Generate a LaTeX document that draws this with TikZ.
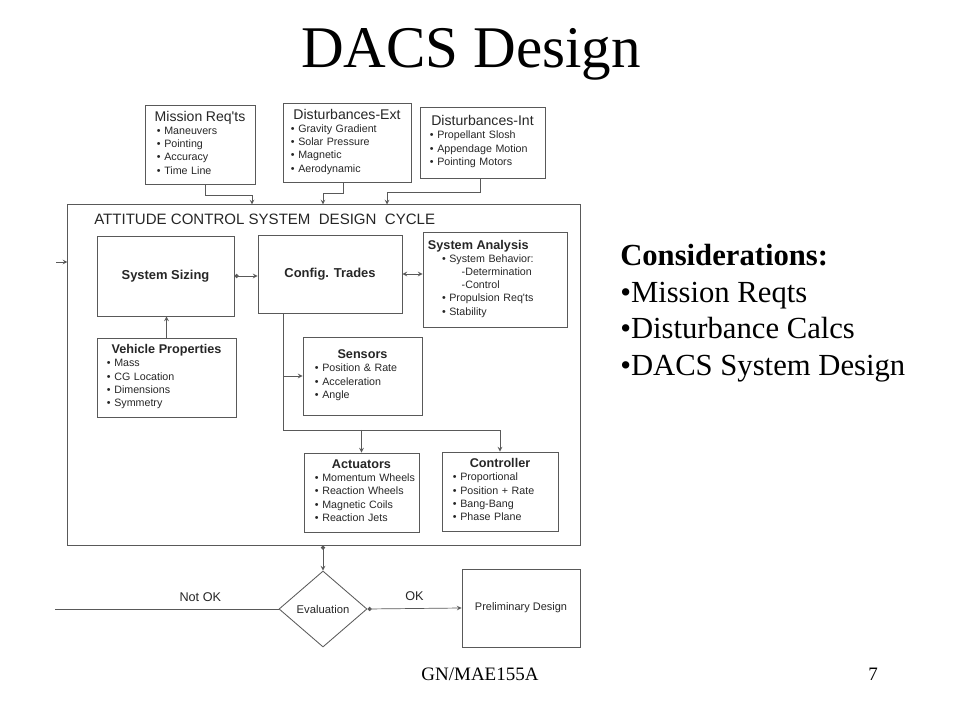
\documentclass[tikz,border=0pt]{standalone}
\usepackage{fontspec}
\setmainfont{Liberation Serif}
\newfontfamily\diagfont{Liberation Sans}
\usepackage{xcolor}
\usepackage{tikz}
\usetikzlibrary{shapes.geometric, arrows, arrows.meta, positioning}

\newcommand{\boxtitle}[1]{\centerline{\fontsize{10}{12}\selectfont #1}}
\newcommand{\boxhead}[1]{\centerline{\bfseries\fontsize{9}{11}\selectfont #1}}
\newcommand{\boxlist}[1]{\begin{tabular}[t]{@{}l@{}}#1\end{tabular}}

\begin{document}
\begin{tikzpicture}[
    x=0.025cm, y=-0.025cm,
    listbox/.style={rectangle, draw=black!65, line width=0.6pt, inner xsep=0.275cm, inner ysep=0pt, align=left, text=black!85, font=\diagfont\fontsize{7.6}{9.4}\selectfont},
    plainbox/.style={rectangle, draw=black!65, line width=0.6pt, align=center, text=black!85, font=\diagfont\bfseries\fontsize{9.2}{11}\selectfont},
    arrow/.style={->, >=stealth, line width=0.5pt, color=black!65},
    dotarrow/.style={{Circle[length=3pt]}->, >=stealth, line width=0.5pt, color=black!65},
    wire/.style={line width=0.5pt, color=black!65},
    tag/.style={text=black!85, font=\diagfont\fontsize{9}{11}\selectfont}
]
    \useasboundingbox (0,0) rectangle (960,720);

    % Slide title
    \node (title) [anchor=base, font=\fontsize{42}{50}\selectfont] at (471,68) {DACS Design};

    % Requirements and disturbances
    \node (mission) [listbox, inner xsep=0.3cm, text width=2.15cm, minimum height=1.975cm] at (200,144.5) {
        \boxtitle{Mission Req'ts}
        \boxlist{• Maneuvers\\ • Pointing\\ • Accuracy\\ • Time Line}
    };
    \node (distext) [listbox, inner xsep=0.2cm, text width=2.8cm, minimum height=1.975cm] at (347,142.5) {
        \boxtitle{Disturbances-Ext}
        \boxlist{• Gravity Gradient\\ • Solar Pressure\\ • Magnetic\\ • Aerodynamic}
    };
    \node (distint) [listbox, inner xsep=0.25cm, text width=2.625cm, minimum height=1.775cm] at (482.5,142.5) {
        \boxtitle{Disturbances-Int}
        \boxlist{• Propellant Slosh\\ • Appendage Motion\\ • Pointing Motors}
    };

    % Attitude control system design cycle
    \node (acs) [rectangle, draw=black!65, line width=0.7pt, minimum width=12.8cm, minimum height=8.5cm] at (324,375) {};
    \node (cycle) [anchor=base west, inner sep=0pt, text=black!85, font=\diagfont\fontsize{10.7}{13}\selectfont] at (94,225) {ATTITUDE CONTROL SYSTEM~~DESIGN~~CYCLE};

    \node (sizing) [plainbox, minimum width=3.425cm, minimum height=2cm] at (165.5,276) {System Sizing};
    \node (config) [plainbox, minimum width=3.6cm, minimum height=1.95cm] at (330,274) {Config. Trades};
    \node (analysis) [listbox, inner xsep=0.125cm, text width=3.35cm, minimum height=2.375cm] at (495,279.5) {
        {\bfseries\fontsize{9}{11}\selectfont System Analysis}\par
        \hspace*{10pt}\boxlist{• System Behavior:\\ \hspace*{14pt}-Determination\\ \hspace*{14pt}-Control\\ • Propulsion Req'ts\\ • Stability}
    };
    \node (vehicle) [listbox, inner xsep=0.25cm, text width=2.975cm, minimum height=1.975cm] at (166.5,377.5) {
        \boxhead{Vehicle Properties}
        \boxlist{• Mass\\ • CG Location\\ • Dimensions\\ • Symmetry}
    };
    \node (sensors) [listbox, inner xsep=0.3cm, text width=2.375cm, minimum height=1.95cm] at (362.5,376) {
        \boxhead{Sensors}
        \boxlist{• Position \& Rate\\ • Acceleration\\ • Angle}
    };
    \node (actuators) [listbox, text width=2.325cm, minimum height=1.975cm] at (361.5,492.5) {
        \boxhead{Actuators}
        \boxlist{• Momentum Wheels\\ • Reaction Wheels\\ • Magnetic Coils\\ • Reaction Jets}
    };
    \node (controller) [listbox, text width=2.35cm, minimum height=1.975cm] at (500,491.5) {
        \boxhead{Controller}
        \boxlist{• Proportional\\ • Position + Rate\\ • Bang-Bang\\ • Phase Plane}
    };

    % Evaluation and result
    \node (eval) [diamond, draw=black!65, line width=0.6pt, aspect=1.16, minimum width=2.2cm, minimum height=1.9cm, inner sep=0pt, text=black!85, font=\diagfont\fontsize{8}{10}\selectfont] at (323,609) {Evaluation};
    \node (prelim) [plainbox, minimum width=2.95cm, minimum height=1.95cm, font=\diagfont\fontsize{7.8}{9.5}\selectfont] at (521,608) {Preliminary Design};

    % Considerations
    \node (consider) [anchor=north west, align=left, inner sep=0pt, font=\fontsize{21.8}{26}\selectfont] at (620,244) {
        \textbf{Considerations:}\\
        •Mission Reqts\\
        •Disturbance Calcs\\
        •DACS System Design
    };

    % Footer
    \node (course) [anchor=base, font=\fontsize{13.5}{16}\selectfont] at (480,680) {GN/MAE155A};
    \node (page) [anchor=base, font=\fontsize{13.5}{16}\selectfont] at (873,680) {7};

    % Connecting arrows
    \draw [arrow] ([xshift=0.125cm]mission.south) -- ++(0,11) -| ([xshift=-1.8cm]acs.north);
    \draw [arrow] ([xshift=-0.1cm]distext.south) -- ++(0,11) -| ([xshift=-0.025cm]acs.north);
    \draw [arrow] ([xshift=-0.0625cm]distint.south) -- ++(0,14) -| ([xshift=1.575cm]acs.north);

    \coordinate (loopin) at (56,262);
    \draw [arrow] (loopin) -- (loopin -| acs.west);
    \draw [dotarrow] (sizing.east) -- (sizing.east -| config.west);
    \draw [arrow, <->] (config.east) -- (analysis.west |- config.east);
    \draw [arrow] (vehicle.north) -- (vehicle.north |- sizing.south);

    \coordinate (bus) at (283,430);
    \draw [arrow] (bus |- config.south) -- (bus) -| (controller.north);
    \draw [arrow] (bus -| actuators.north) -- (actuators.north);
    \draw [arrow] (bus |- sensors.west) -- (sensors.west);

    \draw [dotarrow] (eval.north |- acs.south) -- (eval.north);
    \draw [dotarrow] (eval.east) -- (prelim.west) node[tag, midway, above=2pt] {OK};
    \coordinate (loopout) at (55,609);
    \draw [wire] (eval.west) -- (loopout) node[tag, pos=0.35, above=2pt] {Not OK};

\end{tikzpicture}
\end{document}
